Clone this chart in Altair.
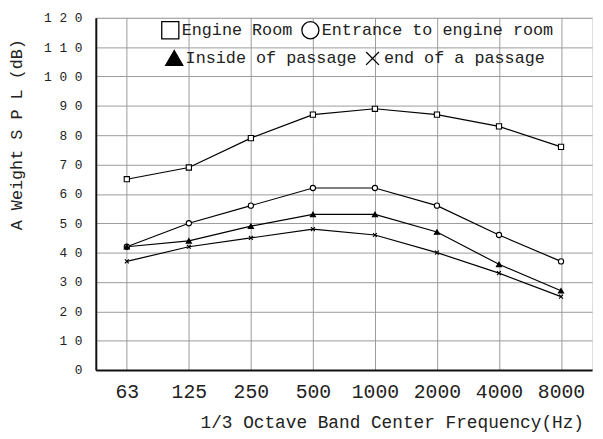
import altair as alt
import pandas as pd

freqs = ["63", "125", "250", "500", "1000", "2000", "4000", "8000"]
series_names = ["Engine Room", "Entrance to engine room", "Inside of passage", "end of a passage"]
engine_room = [65, 69, 79, 87, 89, 87, 83, 76]
entrance = [42, 50, 56, 62, 62, 56, 46, 37]
inside = [42, 44, 49, 53, 53, 47, 36, 27]
end_passage = [37, 42, 45, 48, 46, 40, 33, 25]
y_ticks = list(range(0, 121, 10))

rows = []
for name, vals in zip(series_names, [engine_room, entrance, inside, end_passage]):
    for f, v in zip(freqs, vals):
        rows.append({"freq": f, "series": name, "spl": v})
df = pd.DataFrame(rows)

FONT = "Liberation Mono"

x = alt.X(
    "freq:N",
    sort=freqs,
    scale=alt.Scale(type="point", padding=0.5),
    axis=alt.Axis(
        title="1/3 Octave Band Center Frequency(Hz)",
        labelAngle=0,
        labelFont=FONT,
        labelFontSize=20,
        labelColor="#222",
        labelPadding=12,
        ticks=False,
        domainColor="#111",
        domainWidth=2,
        grid=True,
        gridColor="#9a9a9a",
        gridWidth=1,
        titleFont=FONT,
        titleFontSize=18,
        titleFontWeight="normal",
        titleColor="#222",
        titleX=300,
        titleY=53,
        titleAlign="center",
        titleBaseline="middle",
    ),
)
y = alt.Y(
    "spl:Q",
    scale=alt.Scale(domain=[0, 120], nice=False),
    axis=alt.Axis(
        title="A Weight S P L (dB)",
        values=y_ticks,
        labelExpr="join(split(datum.label, ''), ' ')",
        labelFont=FONT,
        labelFontSize=13,
        labelColor="#222",
        labelPadding=14,
        ticks=False,
        domainColor="#111",
        domainWidth=2,
        grid=True,
        gridColor="#9a9a9a",
        gridWidth=1,
        titleFont=FONT,
        titleFontSize=17,
        titleFontWeight="normal",
        titleColor="#222",
        titleAngle=-90,
        titleX=-80,
        titleY=118,
        titleAlign="center",
        titleBaseline="middle",
    ),
)

lines = alt.Chart(df).mark_line(color="black", strokeWidth=1.2).encode(
    x=x, y=y, detail="series:N"
)

xpath = "M-0.75,-0.75L0.75,0.75M0.75,-0.75L-0.75,0.75"


def make_legend(lx, ly):
    return alt.Legend(
        title=None,
        orient="none",
        direction="horizontal",
        legendX=lx,
        legendY=ly,
        columnPadding=6,
        symbolSize=300,
        symbolStrokeWidth=1.3,
        labelFont=FONT,
        labelFontSize=17,
        labelColor="#222",
        labelOffset=2,
        labelLimit=400,
    )


def point_layer(names, shapes, fills, lx, ly):
    lg = make_legend(lx, ly)
    return (
        alt.Chart(df)
        .transform_filter(alt.FieldOneOfPredicate(field="series", oneOf=names))
        .mark_point(size=28, strokeWidth=1.1, opacity=1)
        .encode(
            x=x,
            y=y,
            shape=alt.Shape("series:N", scale=alt.Scale(domain=names, range=shapes), legend=lg),
            fill=alt.Fill("series:N", scale=alt.Scale(domain=names, range=fills), legend=lg),
            stroke=alt.Stroke("series:N", scale=alt.Scale(domain=names, range=["black", "black"]), legend=lg),
        )
    )


pts_top = point_layer(series_names[:2], ["square", "circle"], ["white", "white"], 66, 3)
pts_bottom = point_layer(series_names[2:], ["triangle-up", xpath], ["black", "black"], 70, 31)

chart = (
    alt.layer(lines, pts_top, pts_bottom)
    .resolve_scale(shape="independent", fill="independent", stroke="independent")
    .properties(
        width=503,
        height=357,
        autosize=alt.AutoSizeParams(type="none"),
        padding={"left": 89, "top": 7, "right": 3, "bottom": 66},
    )
    .configure_view(stroke="#444", strokeWidth=1.8)
    .configure(background="white")
)

chart.save("out.html", embed_options={"renderer": "svg", "actions": False})
